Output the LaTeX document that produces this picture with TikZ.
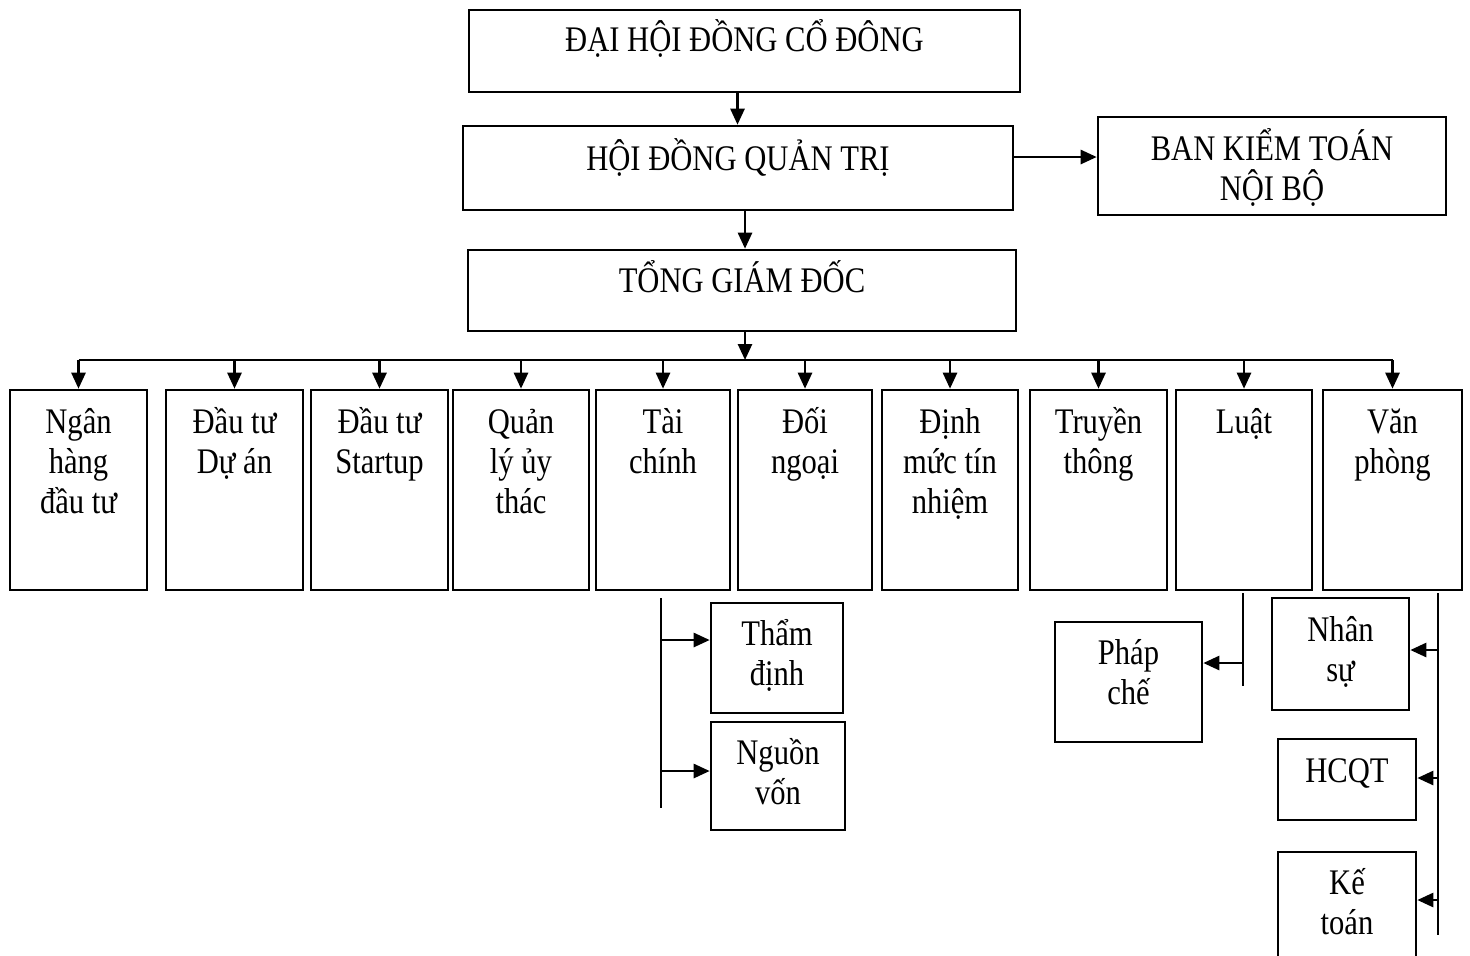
\documentclass[tikz,border=0pt]{standalone}
\usepackage{fontspec}
\setmainfont{Liberation Serif}[FakeStretch=0.85]
\usetikzlibrary{arrows.meta,calc,positioning,fit}
\tikzset{>={Triangle[length=8pt,width=7pt]},
  every node/.style={font=\fontsize{18}{20}\selectfont},
  box/.style={draw,inner sep=0pt},
  txt/.style={anchor=north,align=center,inner sep=0pt}}
\newcommand{\hd}{\rule{0pt}{20pt}}
\begin{document}
\begin{tikzpicture}[x=.5pt,y=-.5pt,line width=1.3pt]
\useasboundingbox (0,0) rectangle (1470,955);
\clip (0,0) rectangle (1470,955);
\node[box,fit={(469,10)(1020,92)}] (dhd) {};
\node[box,fit={(463,126)(1013,210)}] (hdqt) {};
\node[box,fit={(1098,117)(1446,215)}] (bkt) {};
\node[box,fit={(468,250)(1016,331)}] (tgd) {};
\node[txt] (tdhd) at ([yshift=-.5pt]dhd.north) {\hd ĐẠI HỘI ĐỒNG CỔ ĐÔNG};
\node[txt] (thdqt) at ([yshift=-2pt]hdqt.north) {\hd HỘI ĐỒNG QUẢN TRỊ};
\node[txt] (tbkt) at ([yshift=-1.5pt]bkt.north) {\hd BAN KIỂM TOÁN\\NỘI BỘ};
\node[txt] (ttgd) at ([yshift=-1pt]tgd.north) {\hd TỔNG GIÁM ĐỐC};
\draw[->] ([xshift=-3.5pt]dhd.south) -- ([xshift=-3.5pt]dhd.south |- hdqt.north);
\draw[->] ([yshift=5.5pt]hdqt.east) -- ([yshift=4.5pt]bkt.west);
\draw[->] ([xshift=3.5pt]hdqt.south) -- ([xshift=3.5pt]hdqt.south |- tgd.north);
\coordinate (bus) at (0,360);
\foreach \i/\xa/\xb/\t in {1/10/147/{Ngân\\hàng\\đầu tư},2/166/303/{Đầu tư\\Dự án},3/311/448/{Đầu tư\\Startup},4/453/589/{Quản\\lý ủy\\thác},5/596/730/{Tài\\chính},6/738/872/{Đối\\ngoại},7/882/1018/{Định\\mức tín\\nhiệm},8/1030/1167/{Truyền\\thông},9/1176/1312/{Luật},10/1323/1462/{Văn\\phòng}}{
  \node[box,fit={(\xa,390)(\xb,590)}] (d\i) {};
  \node[txt] (t\i) at ([yshift=-1.5pt]d\i.north) {\hd\t};
  \draw[->] (d\i.north |- bus) -- (d\i.north);}
\draw (d1.north |- bus) -- (d10.north |- bus);
\draw[->] ([xshift=1.5pt]tgd.south) -- ([xshift=1.5pt]tgd.south |- bus);
\node[box,fit={(711,603)(843,713)}] (tdinh) {};
\node[box,fit={(711,722)(845,830)}] (nvon) {};
\node[box,fit={(1055,622)(1202,742)}] (pche) {};
\node[box,fit={(1272,598)(1409,710)}] (nsu) {};
\node[box,fit={(1278,739)(1416,820)}] (hcqt) {};
\node[box,fit={(1278,852)(1416,975)}] (ktoan) {};
\node[txt] (ttdinh) at ([yshift=-1pt]tdinh.north) {\hd Thẩm\\định};
\node[txt] (tnvon) at ([yshift=-1pt]nvon.north) {\hd Nguồn\\vốn};
\node[txt] (tpche) at ([yshift=-1pt]pche.north) {\hd Pháp\\chế};
\node[txt] (tnsu) at ([yshift=-1.5pt]nsu.north) {\hd Nhân\\sự};
\node[txt] (thcqt) at ([yshift=-1.5pt]hcqt.north) {\hd HCQT};
\node[txt] (tktoan) at ([yshift=-1pt]ktoan.north) {\hd Kế\\toán};
\coordinate (tc1) at (661,598);\coordinate (tc2) at (661,808);\coordinate (tca) at (661,640);\coordinate (tcb) at (661,771);
\draw (tc1) -- (tc2);
\draw[->] (tca) -- (tca -| tdinh.west);\draw[->] (tcb) -- (tcb -| nvon.west);
\coordinate (l1) at (1243,593);\coordinate (l2) at (1243,686);\coordinate (la) at (1243,663);
\draw (l1) -- (l2);\draw[->] (la) -- (la -| pche.east);
\coordinate (v1) at (1438,593);\coordinate (v2) at (1438,935);\coordinate (va) at (1438,650);\coordinate (vb) at (1438,778);\coordinate (vc) at (1438,900);
\draw (v1) -- (v2);
\draw[->] (va) -- (va -| nsu.east);\draw[->] (vb) -- (vb -| hcqt.east);\draw[->] (vc) -- (vc -| ktoan.east);
\end{tikzpicture}
\end{document}
